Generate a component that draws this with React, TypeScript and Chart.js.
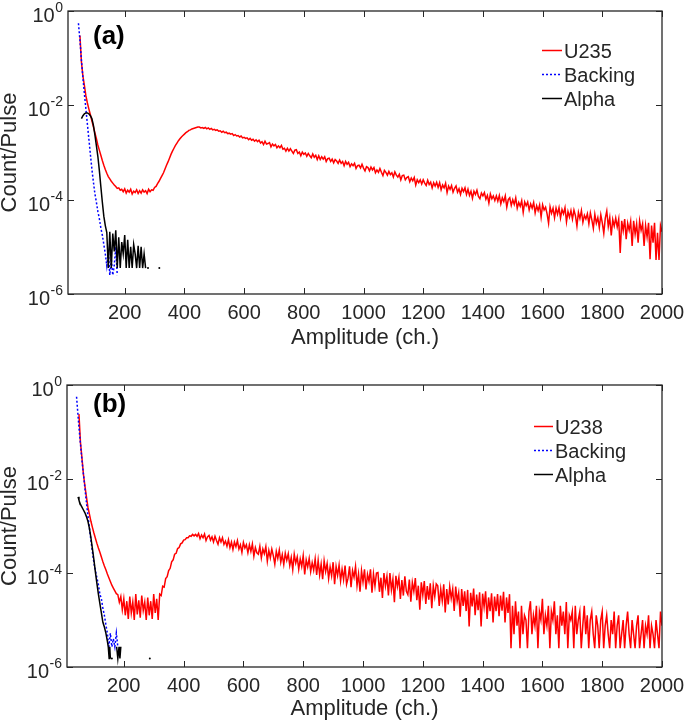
import React, { useEffect, useRef } from 'react';
import { Chart, registerables } from 'chart.js';

Chart.register(...registerables);

const FONT = '"Liberation Sans", Arial, Helvetica, sans-serif';
const AXIS = '#262626';

// Axis ticks
const xTickValues = [200, 400, 600, 800, 1000, 1200, 1400, 1600, 1800, 2000];
const yTickValues = [1e-6, 1e-4, 1e-2, 1];
const yTickExponents = ['-6', '-4', '-2', '0'];

// Channel grid of the sample spectra (read every 5 channels)
const channels = [
  50, 55, 60, 65, 70, 75, 80, 85, 90, 95, 100, 105, 110, 115, 120, 125, 130, 135, 140, 145,
  150, 155, 160, 165, 170, 175, 180, 185, 190, 195, 200, 205, 210, 215, 220, 225, 230, 235, 240, 245,
  250, 255, 260, 265, 270, 275, 280, 285, 290, 295, 300, 305, 310, 315, 320, 325, 330, 335, 340, 345,
  350, 355, 360, 365, 370, 375, 380, 385, 390, 395, 400, 405, 410, 415, 420, 425, 430, 435, 440, 445,
  450, 455, 460, 465, 470, 475, 480, 485, 490, 495, 500, 505, 510, 515, 520, 525, 530, 535, 540, 545,
  550, 555, 560, 565, 570, 575, 580, 585, 590, 595, 600, 605, 610, 615, 620, 625, 630, 635, 640, 645,
  650, 655, 660, 665, 670, 675, 680, 685, 690, 695, 700, 705, 710, 715, 720, 725, 730, 735, 740, 745,
  750, 755, 760, 765, 770, 775, 780, 785, 790, 795, 800, 805, 810, 815, 820, 825, 830, 835, 840, 845,
  850, 855, 860, 865, 870, 875, 880, 885, 890, 895, 900, 905, 910, 915, 920, 925, 930, 935, 940, 945,
  950, 955, 960, 965, 970, 975, 980, 985, 990, 995, 1000, 1005, 1010, 1015, 1020, 1025, 1030, 1035, 1040, 1045,
  1050, 1055, 1060, 1065, 1070, 1075, 1080, 1085, 1090, 1095, 1100, 1105, 1110, 1115, 1120, 1125, 1130, 1135, 1140, 1145,
  1150, 1155, 1160, 1165, 1170, 1175, 1180, 1185, 1190, 1195, 1200, 1205, 1210, 1215, 1220, 1225, 1230, 1235, 1240, 1245,
  1250, 1255, 1260, 1265, 1270, 1275, 1280, 1285, 1290, 1295, 1300, 1305, 1310, 1315, 1320, 1325, 1330, 1335, 1340, 1345,
  1350, 1355, 1360, 1365, 1370, 1375, 1380, 1385, 1390, 1395, 1400, 1405, 1410, 1415, 1420, 1425, 1430, 1435, 1440, 1445,
  1450, 1455, 1460, 1465, 1470, 1475, 1480, 1485, 1490, 1495, 1500, 1505, 1510, 1515, 1520, 1525, 1530, 1535, 1540, 1545,
  1550, 1555, 1560, 1565, 1570, 1575, 1580, 1585, 1590, 1595, 1600, 1605, 1610, 1615, 1620, 1625, 1630, 1635, 1640, 1645,
  1650, 1655, 1660, 1665, 1670, 1675, 1680, 1685, 1690, 1695, 1700, 1705, 1710, 1715, 1720, 1725, 1730, 1735, 1740, 1745,
  1750, 1755, 1760, 1765, 1770, 1775, 1780, 1785, 1790, 1795, 1800, 1805, 1810, 1815, 1820, 1825, 1830, 1835, 1840, 1845,
  1850, 1855, 1860, 1865, 1870, 1875, 1880, 1885, 1890, 1895, 1900, 1905, 1910, 1915, 1920, 1925, 1930, 1935, 1940, 1945,
  1950, 1955, 1960, 1965, 1970, 1975, 1980, 1985, 1990, 1995, 2000,
];

// log10(Count/Pulse), panel (a) U235
const u235Log10 = [
  -0.52, -1.08, -1.38, -1.58, -1.80, -1.95, -2.08, -2.20, -2.33, -2.45, -2.58, -2.70, -2.84, -2.95, -3.06, -3.17, -3.27, -3.36, -3.44, -3.51,
  -3.56, -3.61, -3.65, -3.69, -3.72, -3.76, -3.75, -3.80, -3.78, -3.83, -3.77, -3.86, -3.80, -3.84, -3.78, -3.88, -3.82, -3.85, -3.79, -3.87,
  -3.81, -3.86, -3.79, -3.84, -3.81, -3.87, -3.78, -3.83, -3.79, -3.80, -3.74, -3.72, -3.66, -3.61, -3.55, -3.49, -3.43, -3.35, -3.27, -3.20,
  -3.12, -3.04, -2.97, -2.91, -2.85, -2.80, -2.75, -2.71, -2.67, -2.64, -2.61, -2.58, -2.56, -2.53, -2.52, -2.50, -2.49, -2.48, -2.47, -2.46,
  -2.46, -2.48, -2.47, -2.49, -2.47, -2.50, -2.48, -2.51, -2.49, -2.52, -2.51, -2.53, -2.52, -2.55, -2.54, -2.57, -2.55, -2.58, -2.57, -2.60,
  -2.59, -2.61, -2.60, -2.64, -2.62, -2.65, -2.64, -2.67, -2.65, -2.69, -2.68, -2.70, -2.69, -2.73, -2.70, -2.74, -2.72, -2.76, -2.73, -2.77,
  -2.74, -2.80, -2.77, -2.83, -2.76, -2.82, -2.81, -2.79, -2.88, -2.82, -2.86, -2.83, -2.90, -2.86, -2.90, -2.85, -2.93, -2.91, -2.97, -2.91,
  -2.97, -2.92, -2.97, -3.02, -2.95, -2.94, -3.02, -2.99, -3.07, -2.99, -3.04, -3.01, -3.08, -3.02, -3.07, -3.11, -3.03, -3.10, -3.06, -3.15,
  -3.07, -3.15, -3.09, -3.14, -3.09, -3.19, -3.13, -3.12, -3.19, -3.14, -3.22, -3.15, -3.18, -3.23, -3.16, -3.23, -3.19, -3.28, -3.19, -3.25,
  -3.21, -3.30, -3.24, -3.28, -3.23, -3.34, -3.28, -3.27, -3.33, -3.25, -3.33, -3.39, -3.30, -3.32, -3.39, -3.31, -3.37, -3.32, -3.43, -3.37,
  -3.42, -3.34, -3.42, -3.49, -3.38, -3.42, -3.48, -3.40, -3.47, -3.43, -3.52, -3.41, -3.48, -3.52, -3.46, -3.58, -3.49, -3.48, -3.58, -3.53,
  -3.51, -3.62, -3.54, -3.60, -3.53, -3.69, -3.58, -3.64, -3.58, -3.67, -3.58, -3.65, -3.70, -3.59, -3.68, -3.63, -3.75, -3.64, -3.71, -3.63,
  -3.74, -3.64, -3.79, -3.69, -3.75, -3.65, -3.85, -3.71, -3.78, -3.70, -3.84, -3.76, -3.71, -3.84, -3.77, -3.89, -3.76, -3.83, -3.75, -3.89,
  -3.78, -3.91, -3.82, -3.97, -3.82, -3.89, -3.80, -3.93, -3.98, -3.86, -3.92, -3.85, -3.99, -3.91, -4.07, -3.88, -3.98, -3.92, -4.02, -3.92,
  -4.03, -3.91, -4.09, -3.96, -4.04, -3.92, -4.16, -4.00, -3.96, -4.12, -4.00, -4.10, -3.96, -4.18, -4.06, -4.14, -4.02, -4.27, -4.05, -4.13,
  -4.05, -4.22, -4.09, -4.18, -4.06, -4.28, -4.13, -4.23, -4.11, -4.37, -4.11, -4.22, -4.16, -4.30, -4.50, -4.15, -4.29, -4.18, -4.38, -4.18,
  -4.31, -4.17, -4.39, -4.21, -4.30, -4.17, -4.47, -4.25, -4.37, -4.23, -4.41, -4.22, -4.34, -4.56, -4.27, -4.40, -4.23, -4.48, -4.33, -4.41,
  -4.30, -4.51, -4.28, -4.43, -4.61, -4.31, -4.50, -4.38, -4.59, -4.32, -4.49, -4.71, -4.39, -4.24, -4.57, -4.38, -4.76, -4.42, -4.56, -4.39,
  -4.58, -4.41, -5.13, -4.45, -4.66, -4.41, -4.84, -4.50, -4.65, -4.46, -4.98, -4.45, -4.73, -4.51, -4.91, -4.45, -4.65, -4.51, -4.98, -4.55,
  -4.79, -4.49, -5.26, -4.55, -4.91, -4.49, -5.28, -4.70, -5.28, -4.55, -4.68,
];

// log10(Count/Pulse), panel (b) U238
const u238Log10 = [
  -0.62, -1.22, -1.55, -1.90, -2.15, -2.38, -2.60, -2.75, -2.90, -3.03, -3.15, -3.26, -3.37, -3.47, -3.56, -3.66, -3.76, -3.85, -3.93, -4.02,
  -4.10, -4.18, -4.26, -4.32, -4.38, -4.44, -4.46, -4.62, -4.50, -4.78, -4.55, -4.90, -4.60, -4.98, -4.50, -4.85, -4.62, -5.00, -4.45, -4.88,
  -4.58, -4.95, -4.48, -4.80, -4.62, -5.00, -4.52, -4.90, -4.60, -4.98, -4.45, -4.85, -4.55, -5.00, -4.45, -4.48, -4.28, -4.30, -4.12, -4.08,
  -3.95, -3.90, -3.76, -3.72, -3.60, -3.58, -3.48, -3.46, -3.38, -3.36, -3.30, -3.29, -3.25, -3.25, -3.21, -3.22, -3.18, -3.21, -3.18, -3.22,
  -3.16, -3.27, -3.19, -3.25, -3.17, -3.31, -3.23, -3.20, -3.30, -3.23, -3.34, -3.22, -3.31, -3.39, -3.25, -3.34, -3.25, -3.39, -3.32, -3.43,
  -3.29, -3.46, -3.34, -3.50, -3.34, -3.44, -3.31, -3.49, -3.40, -3.56, -3.35, -3.47, -3.40, -3.57, -3.40, -3.54, -3.38, -3.64, -3.46, -3.57,
  -3.60, -3.43, -3.68, -3.49, -3.59, -3.44, -3.75, -3.52, -3.68, -3.49, -3.63, -3.81, -3.54, -3.69, -3.51, -3.77, -3.61, -3.82, -3.58, -3.73,
  -3.59, -3.84, -3.67, -3.93, -3.60, -3.79, -3.66, -3.92, -3.70, -3.86, -3.63, -4.03, -3.72, -3.87, -3.69, -3.97, -3.78, -3.94, -3.70, -4.04,
  -3.73, -4.04, -3.81, -4.13, -3.74, -3.97, -3.80, -4.12, -3.87, -4.06, -3.77, -4.24, -3.86, -4.05, -3.83, -4.17, -3.92, -4.14, -3.84, -4.24,
  -4.11, -3.86, -4.30, -3.95, -4.09, -3.86, -4.27, -4.02, -4.40, -3.95, -4.19, -3.92, -4.35, -4.03, -4.18, -3.92, -4.42, -4.02, -4.28, -4.00,
  -3.99, -4.40, -4.10, -4.53, -4.00, -4.28, -4.07, -4.48, -4.00, -4.36, -4.13, -4.62, -4.06, -4.29, -4.10, -4.55, -4.15, -4.48, -4.07, -4.39,
  -4.46, -4.14, -4.61, -4.20, -4.39, -4.11, -4.58, -4.27, -4.78, -4.20, -4.47, -4.17, -4.66, -4.28, -4.57, -4.22, -4.75, -4.27, -4.50, -4.23,
  -4.27, -4.70, -4.34, -4.59, -4.24, -4.84, -4.34, -4.67, -4.29, -4.54, -4.34, -4.81, -4.29, -4.60, -4.42, -4.93, -4.34, -4.70, -4.39, -4.81,
  -4.36, -5.14, -4.42, -4.71, -4.33, -4.90, -4.46, -4.79, -4.41, -5.14, -4.44, -4.72, -4.39, -4.98, -4.52, -4.81, -4.43, -5.05, -4.50, -4.81,
  -4.45, -4.92, -4.48, -4.80, -4.40, -5.05, -4.52, -4.85, -4.45, -5.60, -4.70, -5.30, -4.60, -5.12, -4.82, -5.60, -4.70, -5.30, -4.90, -5.00,
  -5.60, -4.82, -4.60, -5.30, -4.90, -5.12, -4.70, -5.60, -4.82, -5.00, -4.55, -5.30, -4.90, -5.12, -4.70, -5.60, -4.82, -5.00, -4.60, -5.30,
  -4.90, -5.60, -4.70, -5.12, -4.82, -5.30, -4.62, -5.60, -4.90, -5.00, -4.82, -5.60, -4.70, -5.30, -5.00, -4.82, -5.60, -5.12, -4.70, -5.30,
  -4.90, -5.60, -5.00, -4.82, -5.30, -5.60, -4.90, -5.12, -5.60, -5.00, -4.82, -5.60, -5.12, -4.90, -5.30, -5.60, -5.00, -5.30, -4.82, -5.60,
  -5.12, -4.90, -5.60, -5.30, -5.00, -5.60, -5.12, -4.82, -5.30, -5.60, -5.00, -5.30, -5.60, -5.12, -4.90, -5.60, -5.30, -5.00, -5.60, -5.12,
  -5.30, -4.90, -5.60, -5.12, -5.30, -5.60, -5.00, -5.30, -5.60, -4.82, -5.12,
];

// Panel (a) backing
const backingAChannels = [45, 50, 55, 60, 65, 70, 75, 80, 85, 90, 95, 100, 105, 110, 115, 120, 125, 130, 135, 140, 145, 150, 155, 160, 165, 170, 175];
const backingALog10 = [-0.26, -0.62, -1.05, -1.42, -1.76, -2.08, -2.40, -2.72, -3.04, -3.35, -3.62, -3.87, -4.05, -4.25, -4.40, -4.60, -4.75, -4.95, -5.15, -5.40, -5.10, -5.60, -5.25, -5.60, -5.40, -5.00, -5.60];

// Panel (a) alpha
const alphaAChannels = [
  55, 60, 65, 70, 75, 80, 85, 90, 95, 100, 105, 110, 115, 120, 125, 130, 135, 140,
  145, 150, 155, 160, 165, 170, 175, 180, 185, 190, 195, 200, 205, 210, 215, 220, 225, 230, 235, 240, 245, 250, 255, 260, 265, 270,
  274, 278, 290, 316,
];
const alphaALog10 = [
  -2.28, -2.22, -2.18, -2.16, -2.16, -2.18, -2.22, -2.28, -2.42, -2.62, -2.85, -3.08, -3.38, -3.72, -4.05, -4.35, -4.55, -4.70,
  -5.45, -4.68, -5.45, -4.72, -5.10, -4.65, -5.45, -4.80, -5.45, -4.90, -5.15, -4.75, -5.45, -4.85, -5.45, -5.00, -5.45, -4.95, -5.15, -5.45, -4.98, -5.45, -5.00, -5.45, -5.15, -5.45,
  null, -5.45, null, -5.45,
];

// Panel (b) backing
const backingBChannels = [42, 45, 50, 55, 60, 65, 70, 75, 80, 85, 90, 95, 100, 105, 110, 115, 120, 125, 130, 135, 140, 145, 150, 155, 160, 165, 170, 175, 180];
const backingBLog10 = [-0.25, -0.50, -0.90, -1.25, -1.60, -1.90, -2.20, -2.50, -2.78, -3.05, -3.30, -3.55, -3.78, -3.95, -4.10, -4.25, -4.45, -4.55, -4.75, -4.90, -5.10, -5.28, -5.57, -5.28, -5.57, -5.40, -5.57, -5.28, -5.57];

// Panel (b) alpha
const alphaBChannels = [47, 50, 55, 60, 65, 70, 75, 80, 85, 90, 95, 100, 105, 110, 115, 120, 125, 130, 135, 140, 145, 148, 151, 153, 155, 157, 160, 163, 176, 180, 184, 187, 190, 240, 287];
const alphaBLog10 = [
  -2.38, -2.45, -2.54, -2.60, -2.66, -2.72, -2.80, -2.90, -3.05, -3.25,
  -3.48, -3.72, -3.98, -4.22, -4.45, -4.65, -4.85, -5.05, -5.15, -5.28,
  -5.45, -5.57, -5.82, -5.57, -5.82, null, -5.82, null, -5.57, -5.82,
  -5.57, -5.82, -5.57, null, -5.82,
];

const toPoints = (xs: number[], logs: (number | null)[]) =>
  xs.map((x, i) => ({ x, y: logs[i] === null || logs[i] === undefined ? null : Math.pow(10, logs[i] as number) }));

const isolatedRadius = (c: any) => {
  const d = c.dataset.data as { x: number; y: number | null }[];
  const i = c.dataIndex;
  const cur = d[i];
  if (!cur || cur.y === null) return 0;
  const prevEmpty = i === 0 || d[i - 1].y === null;
  const nextEmpty = i === d.length - 1 || d[i + 1].y === null;
  return prevEmpty && nextEmpty ? 1 : 0;
};

type LegendItem = { text: string; color: string; dash: number[] };
type Pt = { x: number; y: number | null };

type PanelCfg = {
  label: string;
  labelX: number;
  labelY: number;
  legendX0: number;
  legendX1: number;
  legendTextX: number;
  legendBaselines: number[];
  legendItems: LegendItem[];
  padTop: number;
  yWidth: number;
  xHeight: number;
  xTitlePad: number;
  red: Pt[];
  blue: Pt[];
  black: Pt[];
  redName: string;
};

const overlayPlugin = {
  id: 'overlay',
  afterDraw(chart: any, _args: any, opts: any) {
    const { ctx, chartArea: a, scales } = chart;
    const xs = scales.x;
    const ys = scales.y;
    ctx.save();
    // box
    ctx.strokeStyle = AXIS;
    ctx.lineWidth = 1.3;
    ctx.strokeRect(a.left, a.top, a.right - a.left, a.bottom - a.top);
    // inward ticks
    ctx.lineWidth = 1;
    ctx.beginPath();
    for (const v of xTickValues) {
      const px = Math.round(xs.getPixelForValue(v)) + 0.5;
      ctx.moveTo(px, a.bottom);
      ctx.lineTo(px, a.bottom - 6);
      ctx.moveTo(px, a.top);
      ctx.lineTo(px, a.top + 6);
    }
    for (const v of yTickValues) {
      const py = Math.round(ys.getPixelForValue(v)) + 0.5;
      ctx.moveTo(a.left, py);
      ctx.lineTo(a.left + 6, py);
      ctx.moveTo(a.right, py);
      ctx.lineTo(a.right - 6, py);
    }
    ctx.stroke();
    // y tick labels 10^n
    ctx.fillStyle = AXIS;
    ctx.textAlign = 'right';
    ctx.textBaseline = 'alphabetic';
    yTickValues.forEach((v, i) => {
      const py = ys.getPixelForValue(v);
      const right = a.left - 5;
      ctx.font = `14px ${FONT}`;
      const exp = yTickExponents[i];
      const ew = ctx.measureText(exp).width;
      ctx.fillText(exp, right, py + 1);
      ctx.font = `20px ${FONT}`;
      ctx.fillText('10', right - ew - 0.5, py + 11);
    });
    // panel label
    ctx.textAlign = 'left';
    ctx.fillStyle = '#000';
    ctx.font = `bold 26px ${FONT}`;
    ctx.fillText(opts.label, opts.labelX, opts.labelY);
    // legend
    ctx.font = `20px ${FONT}`;
    (opts.legendItems as LegendItem[]).forEach((it, i) => {
      const b = opts.legendBaselines[i];
      ctx.strokeStyle = it.color;
      ctx.lineWidth = 1.5;
      ctx.setLineDash(it.dash);
      ctx.beginPath();
      ctx.moveTo(opts.legendX0, b - 7.5);
      ctx.lineTo(opts.legendX1, b - 7.5);
      ctx.stroke();
      ctx.setLineDash([]);
      ctx.fillStyle = AXIS;
      ctx.fillText(it.text, opts.legendTextX, b);
    });
    ctx.restore();
  },
};

function Panel({ cfg }: { cfg: PanelCfg }) {
  const ref = useRef<HTMLCanvasElement>(null);
  useEffect(() => {
    const chart = new Chart(ref.current as HTMLCanvasElement, {
      type: 'line',
      data: {
        datasets: [
          {
            label: cfg.redName,
            data: cfg.red as any,
            borderColor: '#ff0000',
            borderWidth: 1.5,
            pointRadius: 0,
            order: 3,
            spanGaps: false,
          },
          {
            label: 'Backing',
            data: cfg.blue as any,
            borderColor: '#0000ff',
            borderWidth: 1.5,
            borderDash: [2, 2],
            pointRadius: 0,
            order: 2,
            spanGaps: false,
          },
          {
            label: 'Alpha',
            data: cfg.black as any,
            borderColor: '#000000',
            backgroundColor: '#000000',
            borderWidth: 1.5,
            pointRadius: isolatedRadius as any,
            pointBorderWidth: 0,
            order: 1,
            spanGaps: false,
          },
        ],
      },
      options: {
        animation: false,
        responsive: false,
        devicePixelRatio: 1,
        parsing: false as any,
        normalized: true,
        layout: { padding: { top: cfg.padTop, right: 23, left: 0, bottom: 0 } },
        plugins: {
          legend: { display: false },
          tooltip: { enabled: false },
          overlay: {
            label: cfg.label,
            labelX: cfg.labelX,
            labelY: cfg.labelY,
            legendX0: cfg.legendX0,
            legendX1: cfg.legendX1,
            legendTextX: cfg.legendTextX,
            legendBaselines: cfg.legendBaselines,
            legendItems: cfg.legendItems,
          },
        } as any,
        scales: {
          x: {
            type: 'linear',
            min: 10,
            max: 2000,
            afterBuildTicks: (s: any) => {
              s.ticks = xTickValues.map((v) => ({ value: v }));
            },
            afterFit: (s: any) => {
              s.height = cfg.xHeight;
              s.paddingLeft = 0;
              s.paddingRight = 0;
            },
            ticks: {
              autoSkip: false,
              maxRotation: 0,
              padding: 7,
              color: AXIS,
              font: { family: FONT, size: 20 },
              callback: (v: any) => String(v),
            },
            grid: { display: false, drawTicks: false, tickLength: 0 },
            border: { display: false },
            title: {
              display: true,
              text: 'Amplitude (ch.)',
              color: AXIS,
              font: { family: FONT, size: 22 },
              padding: { top: 0, bottom: cfg.xTitlePad },
            },
          },
          y: {
            type: 'logarithmic',
            min: 1e-6,
            max: 1,
            afterBuildTicks: (s: any) => {
              s.ticks = yTickValues.map((v) => ({ value: v }));
            },
            afterFit: (s: any) => {
              s.width = cfg.yWidth;
              s.paddingTop = 0;
              s.paddingBottom = 0;
            },
            ticks: { display: false },
            grid: { display: false, drawTicks: false, tickLength: 0 },
            border: { display: false },
            title: {
              display: true,
              text: 'Count/Pulse',
              color: AXIS,
              font: { family: FONT, size: 22 },
              padding: { top: -3, bottom: 0 },
            },
          },
        },
      },
      plugins: [overlayPlugin as any],
    });
    return () => chart.destroy();
  }, [cfg]);
  return <canvas ref={ref} width={685} height={361} style={{ display: 'block', width: 685, height: 361 }} />;
}

const panelA: PanelCfg = {
  label: '(a)',
  labelX: 93,
  labelY: 44,
  legendX0: 542,
  legendX1: 562,
  legendTextX: 564,
  legendBaselines: [58, 82, 106],
  legendItems: [
    { text: 'U235', color: '#ff0000', dash: [] },
    { text: 'Backing', color: '#0000ff', dash: [2, 2] },
    { text: 'Alpha', color: '#000000', dash: [] },
  ],
  padTop: 11,
  yWidth: 68,
  xHeight: 67,
  xTitlePad: 10,
  red: toPoints(channels, u235Log10),
  blue: toPoints(backingAChannels, backingALog10),
  black: toPoints(alphaAChannels, alphaALog10),
  redName: 'U235',
};

const panelB: PanelCfg = {
  label: '(b)',
  labelX: 93,
  labelY: 51,
  legendX0: 534,
  legendX1: 553,
  legendTextX: 555,
  legendBaselines: [73, 97, 121],
  legendItems: [
    { text: 'U238', color: '#ff0000', dash: [] },
    { text: 'Backing', color: '#0000ff', dash: [2, 2] },
    { text: 'Alpha', color: '#000000', dash: [] },
  ],
  padTop: 24,
  yWidth: 67,
  xHeight: 55,
  xTitlePad: 0,
  red: toPoints(channels, u238Log10),
  blue: toPoints(backingBChannels, backingBLog10),
  black: toPoints(alphaBChannels, alphaBLog10),
  redName: 'U238',
};

export default function App() {
  return (
    <div style={{ position: 'absolute', left: 0, top: 0, width: 685, height: 722, background: '#ffffff' }}>
      <Panel cfg={panelA} />
      <Panel cfg={panelB} />
    </div>
  );
}
